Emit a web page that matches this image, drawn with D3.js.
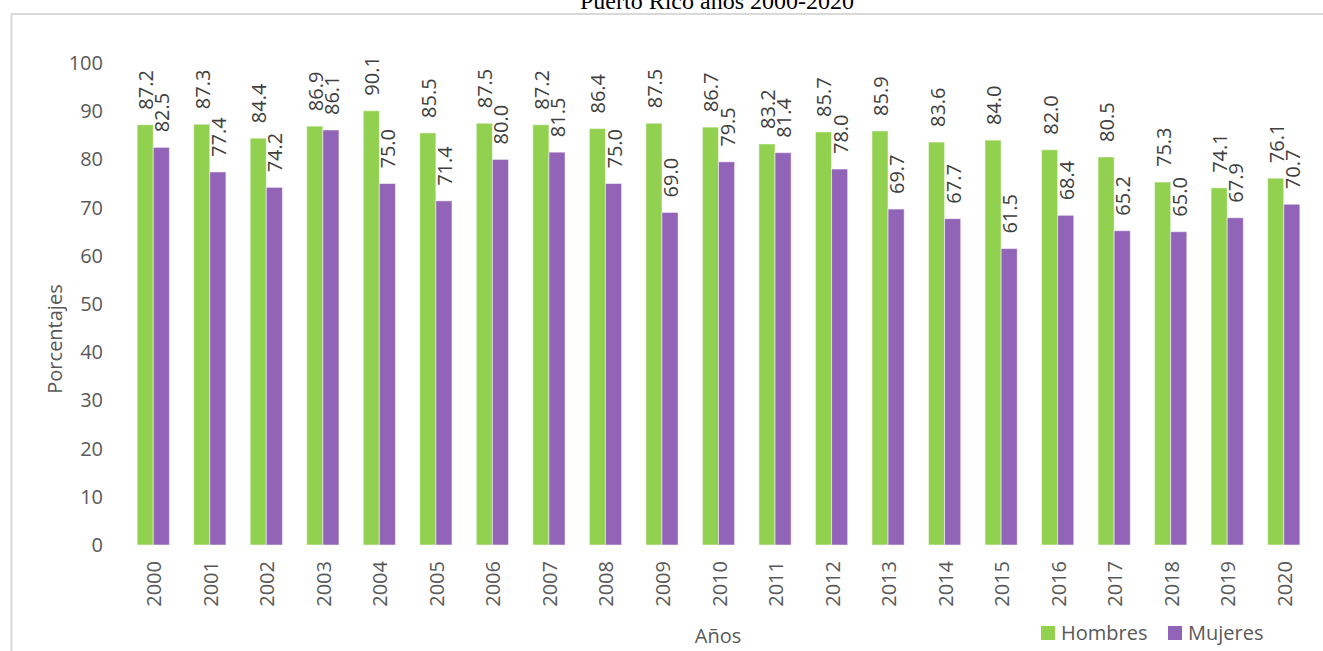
<!DOCTYPE html>
<html>
<head>
<meta charset="utf-8">
<script src="https://cdn.jsdelivr.net/npm/d3@7"></script>
<style>
  body { margin: 0; background: #fff; }
  svg { display: block; font-family: "Open Sans", sans-serif; }
</style>
</head>
<body>
<svg id="chart" width="1323" height="651"></svg>
<script>
// data
const years = ["2000","2001","2002","2003","2004","2005","2006","2007","2008","2009","2010",
  "2011","2012","2013","2014","2015","2016","2017","2018","2019","2020"];
const hombres = [87.2, 87.3, 84.4, 86.9, 90.1, 85.5, 87.5, 87.2, 86.4, 87.5, 86.7,
  83.2, 85.7, 85.9, 83.6, 84.0, 82.0, 80.5, 75.3, 74.1, 76.1];
const mujeres = [82.5, 77.4, 74.2, 86.1, 75.0, 71.4, 80.0, 81.5, 75.0, 69.0, 79.5,
  81.4, 78.0, 69.7, 67.7, 61.5, 68.4, 65.2, 65.0, 67.9, 70.7];
const series = ["Hombres", "Mujeres"];
const yTicks = [0, 10, 20, 30, 40, 50, 60, 70, 80, 90, 100];

let svg = d3.select('#chart');
let color = d3.scaleOrdinal().domain(series).range(['#92d050', '#9264b8']);

// chart frame (cut off at top / right / bottom)
svg.append('path')
  .attr('d', 'M11.5,651 V14 H1323')
  .attr('fill', 'none')
  .attr('stroke', '#d9d9d9')
  .attr('stroke-width', 2)

// title, only its last line shows (cut at top like the source)
svg.append('text')
  .attr('x', 717)
  .attr('y', 9)
  .attr('text-anchor', 'middle')
  .style('font-family', '"Liberation Serif", "Times New Roman", serif')
  .style('font-size', '24px')
  .attr('fill', '#000')
  .text('Puerto Rico años 2000-2020')

let x0 = d3.scaleBand().domain(years).range([125, 1312]).paddingInner(0.43).paddingOuter(0.215);
let x1 = d3.scaleBand().domain(series).range([0, x0.bandwidth()]);
let y = d3.scaleLinear().domain([0, 100]).range([545, 63]);

let rows = years.map(function (yr, i) {
  return {year: yr, values: [{key: 'Hombres', v: hombres[i]}, {key: 'Mujeres', v: mujeres[i]}]}
})

// y axis labels
svg.append('g')
  .selectAll('text')
  .data(yTicks)
  .enter()
  .append('text')
  .attr('x', 103)
  .attr('y', function (d) { return y(d) })
  .attr('dy', '0.35em')
  .attr('text-anchor', 'end')
  .attr('fill', '#595959')
  .style('font-size', '20px')
  .text(function (d) { return d })

// x axis labels (rotated)
svg.append('g')
  .selectAll('text')
  .data(years)
  .enter()
  .append('text')
  .attr('transform', function (d) {
    return `translate(${x0(d) + x0.bandwidth() / 2 + 1},561) rotate(-90)`
  })
  .attr('dy', '0.35em')
  .attr('text-anchor', 'end')
  .attr('fill', '#595959')
  .style('font-size', '20px')
  .text(function (d) { return d })

let groups = svg.append('g')
  .selectAll('g')
  .data(rows)
  .enter()
  .append('g')
  .attr('transform', function (d) { return `translate(${x0(d.year)},0)` })

groups.selectAll('rect')
  .data(function (d) { return d.values })
  .enter()
  .append('rect')
  .attr('x', function (d) { return x1(d.key) })
  .attr('width', x1.bandwidth())
  .attr('y', function (d) { return y(d.v) })
  .attr('height', function (d) { return y(0) - y(d.v) })
  .attr('fill', function (d) { return color(d.key) })
  .attr('stroke', '#ffffff')
  .attr('stroke-opacity', 0.5)
  .attr('stroke-width', 1)

// data labels, sit a bit above the bar top
groups.selectAll('text')
  .data(function (d) { return d.values })
  .enter()
  .append('text')
  .attr('transform', function (d) {
    return `translate(${x1(d.key) + x1.bandwidth() / 2 + 1},${y(d.v) - 15}) rotate(-90)`
  })
  .attr('dy', '0.35em')
  .attr('text-anchor', 'start')
  .attr('fill', '#404040')
  .style('font-size', '20px')
  .text(function (d) { return d.v.toFixed(1) })

// axis titles
svg.append('text')
  .attr('transform', 'translate(55,339) rotate(-90)')
  .attr('dy', '0.35em')
  .attr('text-anchor', 'middle')
  .attr('fill', '#595959')
  .style('font-size', '20px')
  .text('Porcentajes')

svg.append('text')
  .attr('x', 718)
  .attr('y', 643)
  .attr('text-anchor', 'middle')
  .attr('fill', '#595959')
  .style('font-size', '20px')
  .text('Años')

// legend
let legend = svg.append('g')
  .selectAll('g')
  .data(series)
  .enter()
  .append('g')
  .attr('transform', function (d, i) { return `translate(${1041 + i * 127},626)` })

legend.append('rect')
  .attr('width', 14)
  .attr('height', 14)
  .attr('fill', function (d) { return color(d) })

legend.append('text')
  .attr('x', 20)
  .attr('y', 7)
  .attr('dy', '0.35em')
  .attr('fill', '#595959')
  .style('font-size', '20px')
  .text(function (d) { return d })
</script>
</body>
</html>
